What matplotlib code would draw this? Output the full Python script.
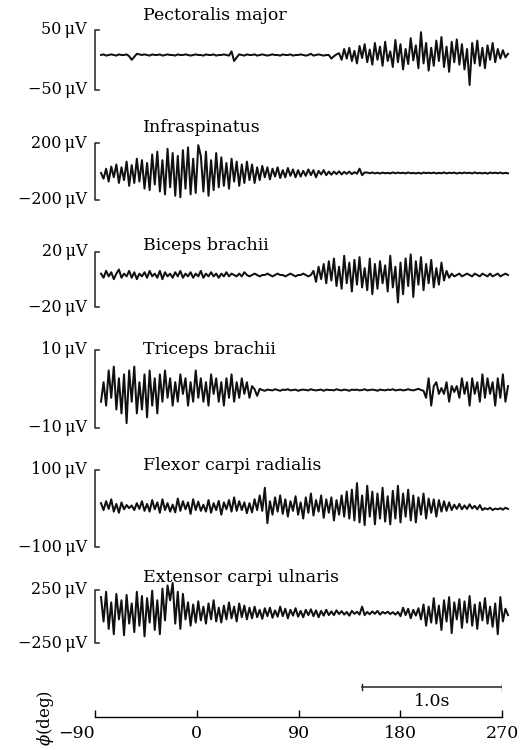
import matplotlib
matplotlib.use("Agg")
import matplotlib.pyplot as plt
import numpy as np

plt.rcParams['font.family'] = ['DejaVu Serif']
plt.rcParams['mathtext.fontset'] = 'dejavuserif'

# ---- data (µV) ----
muscles = ["Pectoralis major", "Infraspinatus", "Biceps brachii",
           "Triceps brachii", "Flexor carpi radialis", "Extensor carpi ulnaris"]
scales = [50, 200, 20, 10, 100, 250]   # calibration bar, ±µV

pectoralis = ([0, 1, -1, 0, 1, 0, -1, 1, 0, 0, 1, -2, -8, -3, 2, 1]
              + [0, 1, 0, -1, 1, 0, 0, 1, -1, 0, 1, 0, 0, -1, 1, 0, 0, 1, 0, -1, 0, 1, 0, 0, -1,
                 1, 0, 0, 1, -1, 0, 0, 1, 0, -1]
              + [6, -10, -4, 1]
              + [0, -1, 1, 0, 0, 1, -1, 0, 1, 0, -1, 0, 1, 0, 0, -1, 1, 0, 0, 1, -1, 0, 0, 1,
                 0, -1, 0, 2, -1, 0, 1, 0, -1, 0]
              + [0, -6, -2, 1]
              + [3, -8, 10, -6, 12, -10, 7, -14, 15, -5, 18, -12, 9, -16, 20, -8, 14, -18, 22, -10,
                 6, -20, 25, -12, 18, -24, 10, -15, 28, -9, 16, -22, 38, -14, 20, -26, 12, -18, 24, -10,
                 30, -20, 14, -28, 22, -12, 26, -16, 18, -24, 10, -50, 20, -14, 24, -18, 12, -22, 16, -8,
                 20, -12, 10, -6, 8, -4, 2])

infraspinatus = ([0, -40, 30, -60, 45, -30, 60, -70, 40, -50, 80, -90, 55, -70, 100, -60, 90, -110, 70, -120]
                 + [130, -80, 150, -130, 90, -150, 170, -100, 140, -160, 120, -170, 160, -110, 180, -150,
                    100, -140, 195, 120, -130, 150, -160, 90, -120, 140]
                 + [-100, 110, -90, 70, -110, 100, -60, 80, -90, 60, -70, 80, -50, 60, -70, 40, -50]
                 + [50, -30, 40, -45, 30, -25, 40, -35, 20, -30, 35, -20, 25, -30, 20, -25, 15, -20, 25,
                    -15, 20, -30, 15, -10, 20, -15, 10]
                 + [-12, 10, -8, 12, -10, 8, -6, 10, -8, 6, -5, 30, -15, 4]
                 + [3, -2, 4, -3, 2, -4, 3, -2, 1, -3, 4, -2, 3, -1, 2, -3, 4, -2, 1, -3,
                    2, -4, 3, -1, 2, -2, 3, -3, 1, -2, 4, -3, 2, -1, 3, -4, 2, -2, 3, -1,
                    2, -3, 4, -2, 1, -3, 2, -4, 3, -1, 2, -2, 3, -3, 1, -2])

biceps = ([1, -2, 3, -1, 2, -3, 1, 4, -2, 1, -1, 3, -2, 2, -3, 1, -1, 2, -2, 3,
           -1, 1, -2, 3, -3, 2, -1, 1, -2, 2, -1, 3, -2, 1, -1, 2, -2, 1, -1, 3,
           -2, 1, -1, 2, -1, 1, -2, 1, -1, 2, -1, 1, 0, -1, 1, -1, 2]
          + [0, -1, 0, 1, 0, -1, 0, 0, 1, 0, -1, 0, 1, 0, 0, -1, 0, 1, 0, -1, 0, 0, 1, 0, -1, 0]
          + [3, -5, 6, -3, 8, -6, 10, -4, 12, -8, 6, -10, 14, -6, 9, -12, 11, -7, 13, -9,
             5, -11, 12, -14, 8, -10, 10, -6, 7, -12, 14, -9, 6, -20, 9, -14, 12, -8, 15, -16,
             10, -7, 13, -11, 8, -6, 11, -9, 5, -7, 9, -4, 3, -2]
          + [1, -1, 0, 1, -1, 0, 1, 0, -1, 1, 0, -1, 1, 0, -1, 1, -1, 0, 1, -1, 0, 1, 0])

triceps = ([-3, 2, -4, 5, -2, 6, -5, 3, -6, 4, -8.5, 5, -3, 6, -6, 2, -5, 4, -7, 5, -4, 3, -6]
           + [4, -3, 5, -2, 3, -4, 2, -3, 4, -1, 3, -4, 2, -3, 5, -2, 3, -3, 2, -4,
              4, -1, 3, -3, 2, -4, 3, -2, 4, -3, 2, -2, 3, -1, 2, -2, 1]
           + [0.2, -1.5, 0.3, 0, -0.2, 0.1, 0, -0.1, 0.2, 0, -0.2, 0.1, 0, 0.2, -0.1, 0, 0.1, -0.2, 0, 0.1,
              0, -0.1, 0.2, 0, -0.1, 0, 0.1, -0.2, 0.1, 0, 0, -0.1, 0.2, 0, -0.1, 0.1, 0, -0.2, 0.1, 0,
              0.1, -0.1, 0, 0.2, -0.1, 0, 0.1, 0, -0.2, 0.1, 0, -0.1, 0.1, 0, 0.2, -0.1, 0, 0.1, -0.1, 0,
              0.2, 0, -0.1, 0.1, 0.3, 0, -0.2]
           + [-2, 3, -4, 1, 2, -1, 0.5, -1, 2, -3, 1, -0.5, 1, -2, 3, -1, 2, -4, 3, -1,
              2, -3, 4, -2, 3, -1, 2, -4, 3, -2, 4, -3, 1])

flexor = ([10, -8, 15, -5, 20, -12, 8, -15, 12, -6, 5, -3, 4, -8, 10, -5, 15, -10, 8, -12,
           18, -6, 12, -15, 20, -8, 10, -12, 6, -14, 22, -10, 15, -6, 12, -18, 20, -8, 14, -10,
           6, -12, 18, -15, 10, -8, 16, -20, 12, -6, 18, -12, 25, -10, 15, -8, 12, -16, 10, -14, 20, -8]
          + [30, -10, 50, -42, 15, -20, 25, -12, 30, -18, 20, -25, 15, -10, 28, -20, 12, -30, 25, -15,
             35, -22, 18, -12, 30, -28, 20, -15, 25, -35, 18, -20, 30, -25, 40, -30]
          + [45, -35, 62, -40, 30, -47, 55, -25, 40, -45, 35, -30, 50, -38, 28, -45, 42, -30, 55, -40,
             35, -25, 45, -35, 30, -40, 25, -20, 35, -30, 22, -15, 20, -25, 18, -12, 15, -10, 12]
          + [-8, 6, -5, 8, -6, 4, -5, 7, -4, 3, -6, 5, -8, -3, -6, -2, -8, -4, -6, -3, -7, -2, -5])

extensor = ([150, -80, 200, -150, 100, -200, 180, -60, 120, -210, 170, -100, 90, -180, 200, -120,
             160, -220, 140, -90, 210, -160, 120, -200, 230, -70, 260, 120, 283, -100, 200, -150, 180, -60]
            + [100, -120, 80, -90, 110, -70, 60, -100, 90, -60, 120, -80, 50, -90, 70, -60, 100, -50,
               60, -80, 90, -40, 70, -60, 50]
            + [-50, 60, -40, 30, -55, 45, -30, 50, -45, 25, -35, 60, -30, 40, -50, 30, -25, 45, -35, 20,
               -40, 30, -20, 35, -30, 25, -40, 20, -25, 30, -20]
            + [15, -20, 25, -10, 18, -15, 10, -25, 20, -8, 12, -15, 60, -20, 10, -12, 15, -8, 20, -15,
               10, -5, 12, -10, 8, -15, 10]
            + [-30, 50, -20, 40, -50, 30, -25, 45]
            + [-60, 80, -120, 60, -90, 140, -100, 70, -160, 120, -80, 150, -190, 100, -60, 130, -140, 110,
               -90, 160, -120, 80, -150, 100, -70, 140, -100, 60, -130, 90, -200, 150, -80, 40, -20])

traces = [pectoralis, infraspinatus, biceps, triceps, flexor, extensor]
phi_ticks = [-90, 0, 90, 180, 270]
time_bar = (146, 270)   # 1.0 s, in degrees of phi

# ---- layout in pixels of the 523x750 page ----
W, H = 523, 750
fig = plt.figure(figsize=(W / 100, H / 100), dpi=100)

TX0, TX1 = 101, 508                      # trace x extent
brackets = [(30, 90), (143, 200), (252, 307), (350, 428), (470, 547), (590, 643)]
centres = [55, 173, 275, 390, 507, 613]  # trace baseline
titles_y = [15, 127, 245, 350, 465, 578]
BX = 95                                   # bracket x


def px_axes(x0, x1, ytop, ybot):
    return fig.add_axes([x0 / W, 1 - ybot / H, (x1 - x0) / W, (ybot - ytop) / H])


for name, S, sig, (top, bot), c, ty in zip(muscles, scales, traces, brackets, centres, titles_y):
    ax = px_axes(TX0, TX1, top, bot)
    lo = -2 * S * (bot - c) / (bot - top)
    ax.set_ylim(lo, lo + 2 * S)
    ax.set_xlim(-90, 270)
    ax.plot(np.linspace(-90, 270, len(sig)), sig, color="#111111", lw=1.45, clip_on=False)
    ax.axis("off")
    w = TX1 - TX0
    bx, tk = (BX - TX0) / w, 4 / w
    ax.plot([bx + tk, bx, bx, bx + tk], [1, 1, 0, 0], transform=ax.transAxes,
            color="#222222", lw=1.1, clip_on=False)
    ax.text(bx - 8 / w, 1, f"{S}\u2009μV", transform=ax.transAxes, ha="right", va="center",
            fontsize=11.5)
    ax.text(bx - 8 / w, 0, f"\u2212{S}\u2009μV", transform=ax.transAxes, ha="right", va="center",
            fontsize=11.5)
    fig.text(143 / W, 1 - ty / H, name, ha="left", va="center", fontsize=12.5)

# phase axis
pa = px_axes(95, 502, 670, 717)
pa.set_xlim(-90, 270)
pa.set_ylim(0, 1)
for s in ("top", "left", "right"):
    pa.spines[s].set_visible(False)
pa.spines["bottom"].set_linewidth(1.0)
pa.set_yticks([])
pa.set_xticks(phi_ticks)
pa.tick_params(axis="x", direction="in", length=5, width=1.0, labelsize=12.5, pad=6)
pa.get_xticklabels()[0].set_ha("right")
pa.plot(time_bar, [0.64, 0.64], color="#222222", lw=1.1)
for xb in time_bar:
    pa.plot([xb, xb], [0.57, 0.71], color="#222222", lw=1.0)
pa.text(np.mean(time_bar), 0.33, "1.0s", ha="center", va="center", fontsize=12.5)
fig.text(46 / W, 1 - 718 / H, "$\\phi$(deg)", rotation=90, ha="center", va="center", fontsize=12)

fig.savefig("out.png", dpi=100)
